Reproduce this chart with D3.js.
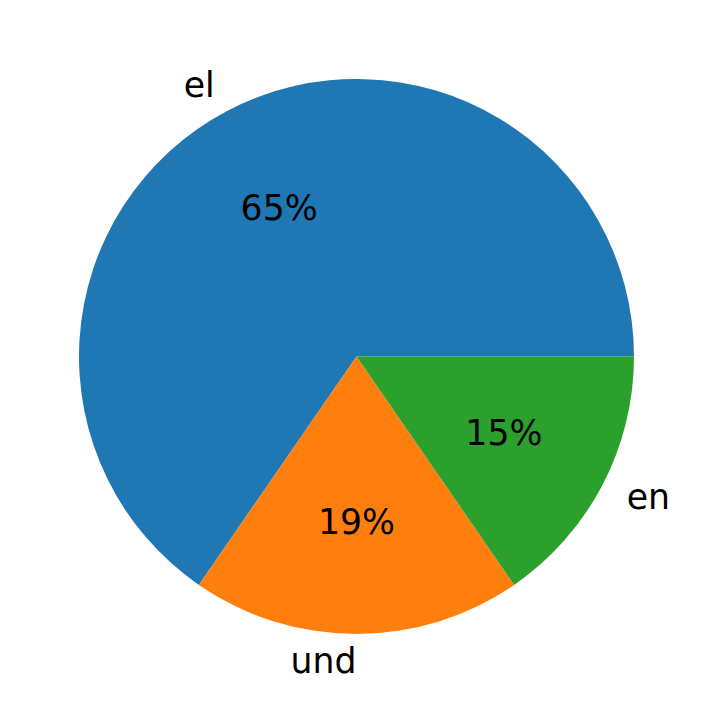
<!DOCTYPE html>
<html><head><meta charset="utf-8">
<script src="https://cdn.jsdelivr.net/npm/d3@7"></script>
<style>body{margin:0;background:#fff}</style>
</head><body>
<svg id="c" width="712" height="713"></svg>
<script>
const labels = ["el", "und", "en"];
const values = [17, 5, 4];
const colors = ["#1f77b4", "#ff7f0e", "#2ca02c"];

const W = 712, H = 713;
const cx = 356.5, cy = 356.5, R = 277.5;
const fs = 34.7;

const svg = d3.select("#c");
const g = svg.append("g").attr("transform", `translate(${cx},${cy})`);

const pie = d3.pie().sort(null).value(d => d)
  .startAngle(Math.PI / 2).endAngle(Math.PI / 2 - 2 * Math.PI);
const arcs = pie(values);
const arc = d3.arc().innerRadius(0).outerRadius(R);

g.selectAll("path").data(arcs).enter().append("path")
  .attr("d", arc).attr("fill", (d, i) => colors[i]);

const total = d3.sum(values);
arcs.forEach((d, i) => {
  const a = (d.startAngle + d.endAngle) / 2;
  const sx = Math.sin(a), sy = -Math.cos(a);
  // pct
  g.append("text")
    .attr("x", 0.6 * R * sx).attr("y", 0.6 * R * sy)
    .attr("text-anchor", "middle").attr("dy", "0.31em")
    .attr("font-family", "DejaVu Sans").attr("font-size", fs)
    .attr("fill", "#000")
    .text(Math.round(100 * values[i] / total) + "%");
  // label
  g.append("text")
    .attr("x", 1.1 * R * sx).attr("y", 1.1 * R * sy)
    .attr("text-anchor", sx > 0 ? "start" : "end").attr("dy", "0.31em")
    .attr("font-family", "DejaVu Sans").attr("font-size", fs)
    .attr("fill", "#000")
    .text(labels[i]);
});
</script>
</body></html>
